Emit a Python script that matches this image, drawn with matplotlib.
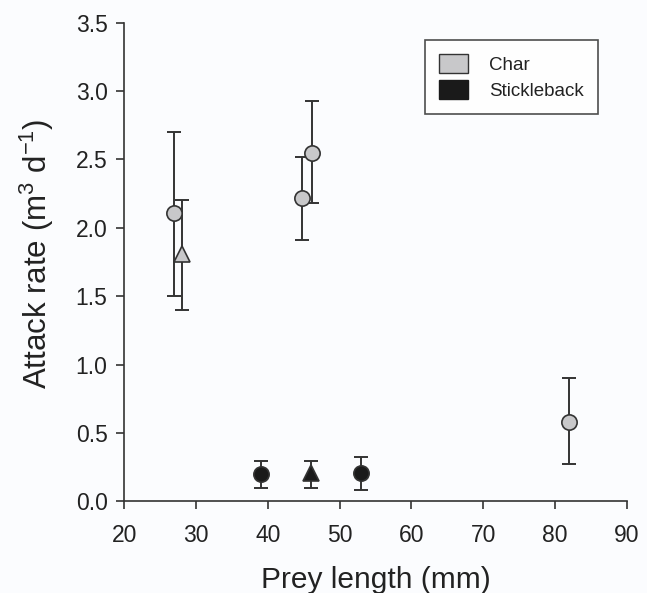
import matplotlib
matplotlib.use("Agg")
import matplotlib.pyplot as plt
from matplotlib.patches import Patch

plt.rcParams['font.family'] = ['Liberation Sans', 'DejaVu Sans']
plt.rcParams['mathtext.fontset'] = 'custom'
plt.rcParams['mathtext.rm'] = 'Liberation Sans'
plt.rcParams['mathtext.it'] = 'Liberation Sans'

# Char (gray) data
char_circ_x = [26.9, 44.7, 46.1, 82.0]
char_circ_y = [2.11, 2.22, 2.55, 0.58]
char_circ_lo = [1.50, 1.91, 2.18, 0.27]
char_circ_hi = [2.70, 2.52, 2.93, 0.90]

char_tri_x = [28.1]
char_tri_y = [1.81]
char_tri_lo = [1.40]
char_tri_hi = [2.20]

# Stickleback (black) data
stk_circ_x = [39.1, 53.0]
stk_circ_y = [0.20, 0.21]
stk_circ_lo = [0.10, 0.085]
stk_circ_hi = [0.295, 0.325]

stk_tri_x = [46.0]
stk_tri_y = [0.21]
stk_tri_lo = [0.10]
stk_tri_hi = [0.295]

x_ticks = [20, 30, 40, 50, 60, 70, 80, 90]
y_ticks = [0.0, 0.5, 1.0, 1.5, 2.0, 2.5, 3.0, 3.5]
legend_labels = ['Char', 'Stickleback']

GRAY = '#c8c8ca'
BLACK = '#1a1a1a'
EDGE = '#333333'
BG = '#fbfcfe'

fig = plt.figure(figsize=(6.47, 5.93), dpi=100, facecolor=BG)
ax = fig.add_axes([0.192, 0.1546, 0.7766, 0.8071], facecolor=BG)


def draw(xs, ys, lo, hi, marker, face):
    yerr = [[y - l for y, l in zip(ys, lo)], [h - y for y, h in zip(ys, hi)]]
    ax.errorbar(xs, ys, yerr=yerr, fmt='none', ecolor=EDGE, elinewidth=1.4,
                capsize=5, capthick=1.4, zorder=2)
    ax.plot(xs, ys, linestyle='none', marker=marker, markersize=11,
            markerfacecolor=face, markeredgecolor=EDGE, markeredgewidth=1.2,
            zorder=3)


draw(char_circ_x, char_circ_y, char_circ_lo, char_circ_hi, 'o', GRAY)
draw(char_tri_x, char_tri_y, char_tri_lo, char_tri_hi, '^', GRAY)
draw(stk_circ_x, stk_circ_y, stk_circ_lo, stk_circ_hi, 'o', BLACK)
draw(stk_tri_x, stk_tri_y, stk_tri_lo, stk_tri_hi, '^', BLACK)

ax.set_xlim(20, 90)
ax.set_ylim(0, 3.5)
ax.set_xticks(x_ticks)
ax.set_yticks(y_ticks)
ax.set_xticklabels([str(t) for t in x_ticks])
ax.set_yticklabels([f'{t:.1f}' for t in y_ticks])

for s in ['top', 'right']:
    ax.spines[s].set_visible(False)
for s in ['left', 'bottom']:
    ax.spines[s].set_color(EDGE)
    ax.spines[s].set_linewidth(1.2)

ax.tick_params(axis='both', direction='out', length=6, width=1.2,
               color=EDGE, labelsize=16.5, labelcolor='#222222')
ax.tick_params(axis='x', pad=10)
ax.tick_params(axis='y', pad=6)

ax.set_xlabel('Prey length (mm)', fontsize=21.5, color='#222222', labelpad=14)
ax.set_ylabel(r'Attack rate (m$^3$ d$^{-1}$)', fontsize=22.5, color='#222222')
ax.yaxis.set_label_coords(-0.135, 0.517)

handles = [Patch(facecolor=GRAY, edgecolor=EDGE, linewidth=1.0),
           Patch(facecolor=BLACK, edgecolor=BLACK, linewidth=1.0)]
leg = ax.legend(handles, legend_labels, loc='upper left',
                bbox_to_anchor=(0.5985, 0.964), borderaxespad=0,
                fontsize=13.5, frameon=True, fancybox=False,
                handlelength=1.55, handleheight=1.2, handletextpad=1.1,
                labelspacing=0.3, borderpad=0.75)
leg.get_frame().set_edgecolor('#222222')
leg.get_frame().set_linewidth(1.2)
leg.get_frame().set_facecolor('white')
for t in leg.get_texts():
    t.set_color('#222222')

fig.savefig('out.png', dpi=100, facecolor=BG)
